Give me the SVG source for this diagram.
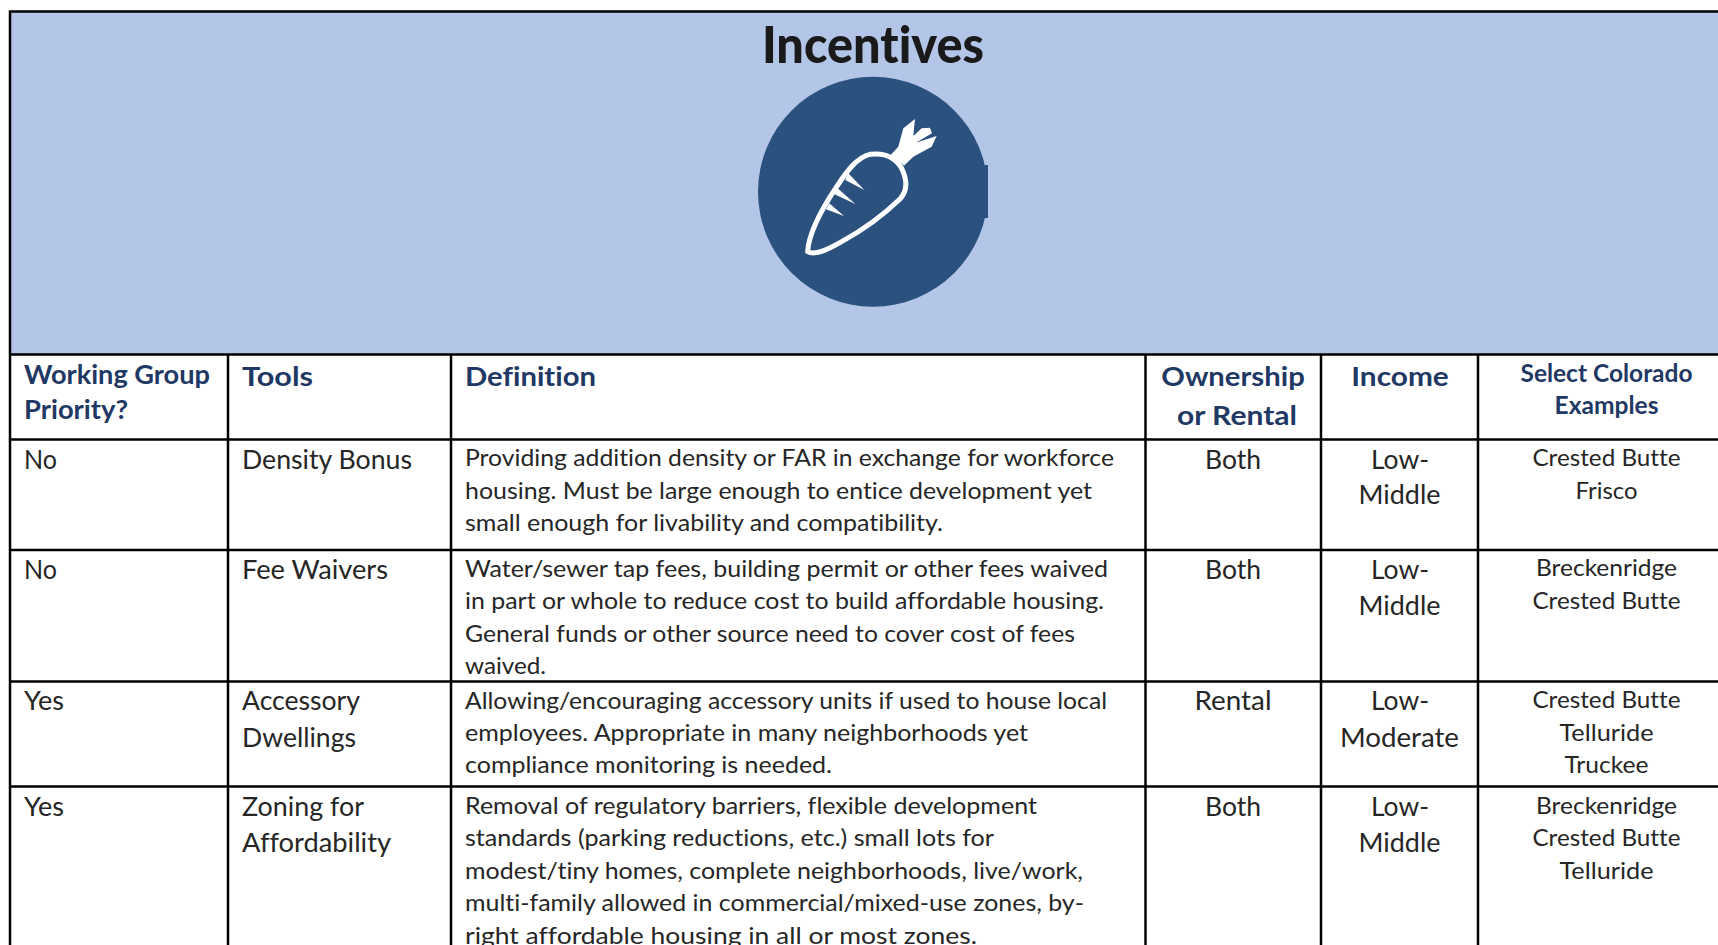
<svg xmlns="http://www.w3.org/2000/svg" width="1718" height="945" viewBox="0 0 1718 945">
<style>
text{font-family:"Lato","Liberation Sans",sans-serif;fill:#262626;font-size:24px;font-variant-ligatures:none}
.h{font-weight:700;fill:#1f3864;font-size:27.5px}
.hs{font-weight:700;fill:#1f3864;font-size:24px;text-anchor:middle}
.m{font-size:26.5px}
.c{text-anchor:middle}
.e{font-size:24px;text-anchor:middle}
.l{stroke:#000;stroke-width:2.5;fill:none}
</style>
<rect width="1718" height="945" fill="#fff"/>
<g id="banner">
<rect x="10" y="11" width="1708" height="343" fill="#b4c6e7"/>
<text x="873" y="62.500" text-anchor="middle" textLength="222" lengthAdjust="spacingAndGlyphs" style="font-size:51px;font-weight:900;fill:#1a1a1a">Incentives</text>
<g id="carrot-icon">
<circle cx="873" cy="191.700" r="115" fill="#2b517f"/>
<rect x="985" y="165" width="3" height="53" fill="#2b517f"/>
<g transform="translate(700 0) scale(.3333)">
<path d="M323 755C326 700 370 620 410 560C440 515 470 472 510 463C550 458 585 470 605 505C622 540 625 570 600 597C550 645 480 695 425 725C385 748 345 768 323 755Z" fill="none" stroke="#fff" stroke-width="15" stroke-linejoin="round"/>
<path d="M572 465L595 440L610 385L645 357L640 408L665 385L690 383L696 400L648 428L710 408L695 440L640 470L612 497L590 478Z" fill="#fff"/>
<path d="M445 520L493 570L436 540ZM412 564L466 612L402 582ZM388 610L432 648L378 628Z" fill="#fff"/>
</g>
</g>
</g>
<g id="grid" class="l">
<path d="M9 11.500H1718M10 11V945M9 354.500H1718M9 439.500H1718M9 550H1718M9 681.500H1718M9 786.500H1718M228 354V945M451 354V945M1145.500 354V945M1321 354V945M1478 354V945"/>
</g>
<g id="header">
<text class="h" x="24" y="384" textLength="186" lengthAdjust="spacingAndGlyphs" style="font-size:26px">Working Group</text>
<text class="h" x="24" y="419" textLength="104" lengthAdjust="spacingAndGlyphs" style="font-size:26px">Priority?</text>
<text class="h" x="242" y="386" textLength="71" lengthAdjust="spacingAndGlyphs">Tools</text>
<text class="h" x="465" y="386" textLength="131" lengthAdjust="spacingAndGlyphs">Definition</text>
<text class="h c" x="1233" y="386" textLength="143.500" lengthAdjust="spacingAndGlyphs">Ownership</text>
<text class="h c" x="1237" y="425" textLength="120" lengthAdjust="spacingAndGlyphs">or Rental</text>
<text class="h c" x="1400" y="386" textLength="97.500" lengthAdjust="spacingAndGlyphs">Income</text>
<text class="hs" x="1606.500" y="382" textLength="172" lengthAdjust="spacingAndGlyphs">Select Colorado</text>
<text class="hs" x="1606.500" y="414" textLength="104" lengthAdjust="spacingAndGlyphs">Examples</text>
</g>
<g id="row-density-bonus">
<text class="m" x="24" y="469" textLength="33" lengthAdjust="spacingAndGlyphs">No</text>
<text class="m" x="242" y="469" textLength="170" lengthAdjust="spacingAndGlyphs">Density Bonus</text>
<text x="465" y="466" textLength="649" lengthAdjust="spacingAndGlyphs">Providing addition density or FAR in exchange for workforce</text>
<text x="465" y="498.500" textLength="627" lengthAdjust="spacingAndGlyphs">housing. Must be large enough to entice development yet</text>
<text x="465" y="531" textLength="478" lengthAdjust="spacingAndGlyphs">small enough for livability and compatibility.</text>
<text class="m c" x="1233" y="469" textLength="56" lengthAdjust="spacingAndGlyphs">Both</text>
<text class="m c" x="1400" y="469" textLength="58" lengthAdjust="spacingAndGlyphs">Low-</text>
<text class="m c" x="1399.500" y="504" textLength="82" lengthAdjust="spacingAndGlyphs">Middle</text>
<text class="e" x="1606.500" y="466" textLength="148" lengthAdjust="spacingAndGlyphs">Crested Butte</text>
<text class="e" x="1606.500" y="498.500" textLength="62" lengthAdjust="spacingAndGlyphs">Frisco</text>
</g>
<g id="row-fee-waivers">
<text class="m" x="24" y="579" textLength="33" lengthAdjust="spacingAndGlyphs">No</text>
<text class="m" x="242" y="579" textLength="146" lengthAdjust="spacingAndGlyphs">Fee Waivers</text>
<text x="465" y="577" textLength="643" lengthAdjust="spacingAndGlyphs">Water/sewer tap fees, building permit or other fees waived</text>
<text x="465" y="609" textLength="639" lengthAdjust="spacingAndGlyphs">in part or whole to reduce cost to build affordable housing.</text>
<text x="465" y="642" textLength="610" lengthAdjust="spacingAndGlyphs">General funds or other source need to cover cost of fees</text>
<text x="465" y="674" textLength="81" lengthAdjust="spacingAndGlyphs">waived.</text>
<text class="m c" x="1233" y="579" textLength="56" lengthAdjust="spacingAndGlyphs">Both</text>
<text class="m c" x="1400" y="579" textLength="58" lengthAdjust="spacingAndGlyphs">Low-</text>
<text class="m c" x="1399.500" y="615" textLength="82" lengthAdjust="spacingAndGlyphs">Middle</text>
<text class="e" x="1606.500" y="576" textLength="141" lengthAdjust="spacingAndGlyphs">Breckenridge</text>
<text class="e" x="1606.500" y="608.500" textLength="148" lengthAdjust="spacingAndGlyphs">Crested Butte</text>
</g>
<g id="row-accessory-dwellings">
<text class="m" x="24" y="710" textLength="40" lengthAdjust="spacingAndGlyphs">Yes</text>
<text class="m" x="242" y="710" textLength="118" lengthAdjust="spacingAndGlyphs">Accessory</text>
<text class="m" x="242" y="746.500" textLength="114" lengthAdjust="spacingAndGlyphs">Dwellings</text>
<text x="465" y="708.500" textLength="642" lengthAdjust="spacingAndGlyphs">Allowing/encouraging accessory units if used to house local</text>
<text x="465" y="741" textLength="563" lengthAdjust="spacingAndGlyphs">employees. Appropriate in many neighborhoods yet</text>
<text x="465" y="773" textLength="367" lengthAdjust="spacingAndGlyphs">compliance monitoring is needed.</text>
<text class="m c" x="1233" y="710" textLength="77" lengthAdjust="spacingAndGlyphs">Rental</text>
<text class="m c" x="1400" y="710" textLength="58" lengthAdjust="spacingAndGlyphs">Low-</text>
<text class="m c" x="1399.500" y="746.500" textLength="119" lengthAdjust="spacingAndGlyphs">Moderate</text>
<text class="e" x="1606.500" y="707.500" textLength="148" lengthAdjust="spacingAndGlyphs">Crested Butte</text>
<text class="e" x="1606.500" y="740.500" textLength="94" lengthAdjust="spacingAndGlyphs">Telluride</text>
<text class="e" x="1606.500" y="772.500" textLength="84" lengthAdjust="spacingAndGlyphs">Truckee</text>
</g>
<g id="row-zoning">
<text class="m" x="24" y="815.500" textLength="40" lengthAdjust="spacingAndGlyphs">Yes</text>
<text class="m" x="242" y="815.500" textLength="122" lengthAdjust="spacingAndGlyphs">Zoning for</text>
<text class="m" x="242" y="852" textLength="149" lengthAdjust="spacingAndGlyphs">Affordability</text>
<text x="465" y="813.500" textLength="572" lengthAdjust="spacingAndGlyphs">Removal of regulatory barriers, flexible development</text>
<text x="465" y="846" textLength="529" lengthAdjust="spacingAndGlyphs">standards (parking reductions, etc.) small lots for</text>
<text x="465" y="878.500" textLength="618" lengthAdjust="spacingAndGlyphs">modest/tiny homes, complete neighborhoods, live/work,</text>
<text x="465" y="911" textLength="619" lengthAdjust="spacingAndGlyphs">multi-family allowed in commercial/mixed-use zones, by-</text>
<text x="465" y="943.500" textLength="512" lengthAdjust="spacingAndGlyphs">right affordable housing in all or most zones.</text>
<text class="m c" x="1233" y="815.500" textLength="56" lengthAdjust="spacingAndGlyphs">Both</text>
<text class="m c" x="1400" y="815.500" textLength="58" lengthAdjust="spacingAndGlyphs">Low-</text>
<text class="m c" x="1399.500" y="852" textLength="82" lengthAdjust="spacingAndGlyphs">Middle</text>
<text class="e" x="1606.500" y="813.500" textLength="141" lengthAdjust="spacingAndGlyphs">Breckenridge</text>
<text class="e" x="1606.500" y="846" textLength="148" lengthAdjust="spacingAndGlyphs">Crested Butte</text>
<text class="e" x="1606.500" y="878.500" textLength="94" lengthAdjust="spacingAndGlyphs">Telluride</text>
</g>
</svg>
